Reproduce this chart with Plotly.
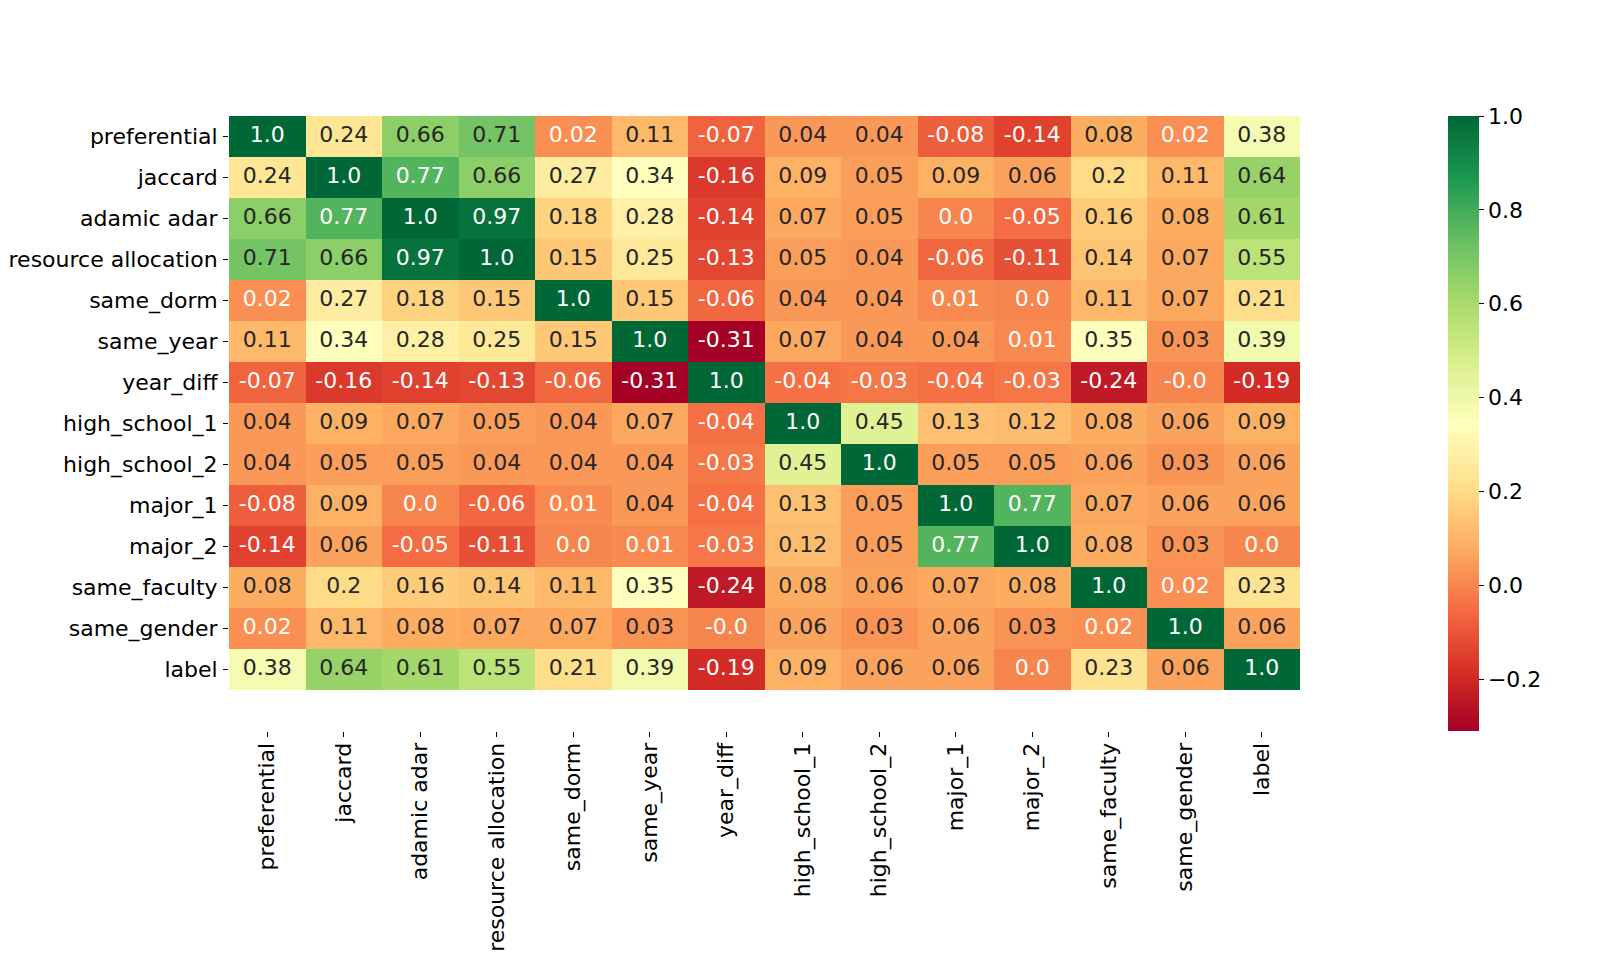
import plotly.graph_objects as go

labels = ["preferential", "jaccard", "adamic adar", "resource allocation", "same_dorm",
          "same_year", "year_diff", "high_school_1", "high_school_2", "major_1",
          "major_2", "same_faculty", "same_gender", "label"]

preferential = [1.0, 0.24, 0.66, 0.71, 0.02, 0.11, -0.07, 0.04, 0.04, -0.08, -0.14, 0.08, 0.02, 0.38]
jaccard = [0.24, 1.0, 0.77, 0.66, 0.27, 0.34, -0.16, 0.09, 0.05, 0.09, 0.06, 0.2, 0.11, 0.64]
adamic_adar = [0.66, 0.77, 1.0, 0.97, 0.18, 0.28, -0.14, 0.07, 0.05, 0.0, -0.05, 0.16, 0.08, 0.61]
resource_allocation = [0.71, 0.66, 0.97, 1.0, 0.15, 0.25, -0.13, 0.05, 0.04, -0.06, -0.11, 0.14, 0.07, 0.55]
same_dorm = [0.02, 0.27, 0.18, 0.15, 1.0, 0.15, -0.06, 0.04, 0.04, 0.01, 0.0, 0.11, 0.07, 0.21]
same_year = [0.11, 0.34, 0.28, 0.25, 0.15, 1.0, -0.31, 0.07, 0.04, 0.04, 0.01, 0.35, 0.03, 0.39]
year_diff = [-0.07, -0.16, -0.14, -0.13, -0.06, -0.31, 1.0, -0.04, -0.03, -0.04, -0.03, -0.24, -0.0, -0.19]
high_school_1 = [0.04, 0.09, 0.07, 0.05, 0.04, 0.07, -0.04, 1.0, 0.45, 0.13, 0.12, 0.08, 0.06, 0.09]
high_school_2 = [0.04, 0.05, 0.05, 0.04, 0.04, 0.04, -0.03, 0.45, 1.0, 0.05, 0.05, 0.06, 0.03, 0.06]
major_1 = [-0.08, 0.09, 0.0, -0.06, 0.01, 0.04, -0.04, 0.13, 0.05, 1.0, 0.77, 0.07, 0.06, 0.06]
major_2 = [-0.14, 0.06, -0.05, -0.11, 0.0, 0.01, -0.03, 0.12, 0.05, 0.77, 1.0, 0.08, 0.03, 0.0]
same_faculty = [0.08, 0.2, 0.16, 0.14, 0.11, 0.35, -0.24, 0.08, 0.06, 0.07, 0.08, 1.0, 0.02, 0.23]
same_gender = [0.02, 0.11, 0.08, 0.07, 0.07, 0.03, -0.0, 0.06, 0.03, 0.06, 0.03, 0.02, 1.0, 0.06]
label = [0.38, 0.64, 0.61, 0.55, 0.21, 0.39, -0.19, 0.09, 0.06, 0.06, 0.0, 0.23, 0.06, 1.0]

rows = [preferential, jaccard, adamic_adar, resource_allocation, same_dorm, same_year,
        year_diff, high_school_1, high_school_2, major_1, major_2, same_faculty,
        same_gender, label]

ZMIN, ZMAX = -0.31, 1.0
colorbar_ticks = [-0.2, 0.0, 0.2, 0.4, 0.6, 0.8, 1.0]
colorbar_ticktext = ["\u22120.2", "0.0", "0.2", "0.4", "0.6", "0.8", "1.0"]

rdylgn = ["#a50026", "#d73027", "#f46d43", "#fdae61", "#fee08b", "#ffffbf",
          "#d9ef8b", "#a6d96a", "#66bd63", "#1a9850", "#006837"]
colorscale = [[i / 10, c] for i, c in enumerate(rdylgn)]


def hex2rgb(h):
    return tuple(int(h[i:i + 2], 16) for i in (1, 3, 5))


def cmap(v):
    t = (v - ZMIN) / (ZMAX - ZMIN)
    t = min(max(t, 0.0), 1.0)
    pos = t * 10
    i = min(int(pos), 9)
    f = pos - i
    a, b = hex2rgb(rdylgn[i]), hex2rgb(rdylgn[i + 1])
    return [a[k] + (b[k] - a[k]) * f for k in range(3)]


def luminance(rgb):
    lin = []
    for c in rgb:
        c = c / 255
        lin.append(c / 12.92 if c <= 0.03928 else ((c + 0.055) / 1.055) ** 2.4)
    return 0.2126 * lin[0] + 0.7152 * lin[1] + 0.0722 * lin[2]


tx, ty, tt, tc = [], [], [], []
for r, row in enumerate(rows):
    for c, v in enumerate(row):
        tx.append(labels[c])
        ty.append(labels[r])
        tt.append(str(v))
        tc.append("rgb(38,38,38)" if luminance(cmap(v)) > 0.408 else "white")

font = "DejaVu Sans"
FS = 22
fig = go.Figure()
fig.add_trace(go.Heatmap(
    z=rows, x=labels, y=labels, zmin=ZMIN, zmax=ZMAX, colorscale=colorscale,
    hoverinfo="skip",
    colorbar=dict(
        x=1.1382, xanchor="left", xref="paper", y=0.5, yanchor="middle",
        len=1.0, lenmode="fraction", thickness=31, thicknessmode="pixels",
        outlinewidth=0, ypad=0, xpad=0,
        tickvals=colorbar_ticks, ticktext=colorbar_ticktext,
        ticks="outside", ticklen=5, tickwidth=1, tickcolor="black",
        tickfont=dict(family=font, size=FS, color="black"),
    ),
))
fig.add_trace(go.Scatter(
    x=tx, y=ty, text=tt, mode="text", hoverinfo="skip", showlegend=False,
    textfont=dict(family=font, size=FS, color=tc),
))

fig.update_layout(
    width=1600, height=965,
    margin=dict(l=221, r=308, t=108, b=242),
    plot_bgcolor="white", paper_bgcolor="white",
    font=dict(family=font, size=FS, color="black"),
    showlegend=False,
)
fig.update_xaxes(
    type="category", range=[-0.5, 13.5], showgrid=False, zeroline=False,
    tickangle=-90, ticks="outside", ticklen=5, tickwidth=1, tickcolor="black",
    tickfont=dict(family=font, size=FS, color="black"), ticklabelstandoff=-3,
    showline=False, automargin=False,
)
fig.update_yaxes(
    type="category", range=[14.5, -0.5], showgrid=False, zeroline=False,
    ticks="outside", ticklen=5, tickwidth=1, tickcolor="black",
    tickfont=dict(family=font, size=FS, color="black"), ticklabelstandoff=1,
    showline=False, automargin=False,
)

fig.write_html("out.html")
